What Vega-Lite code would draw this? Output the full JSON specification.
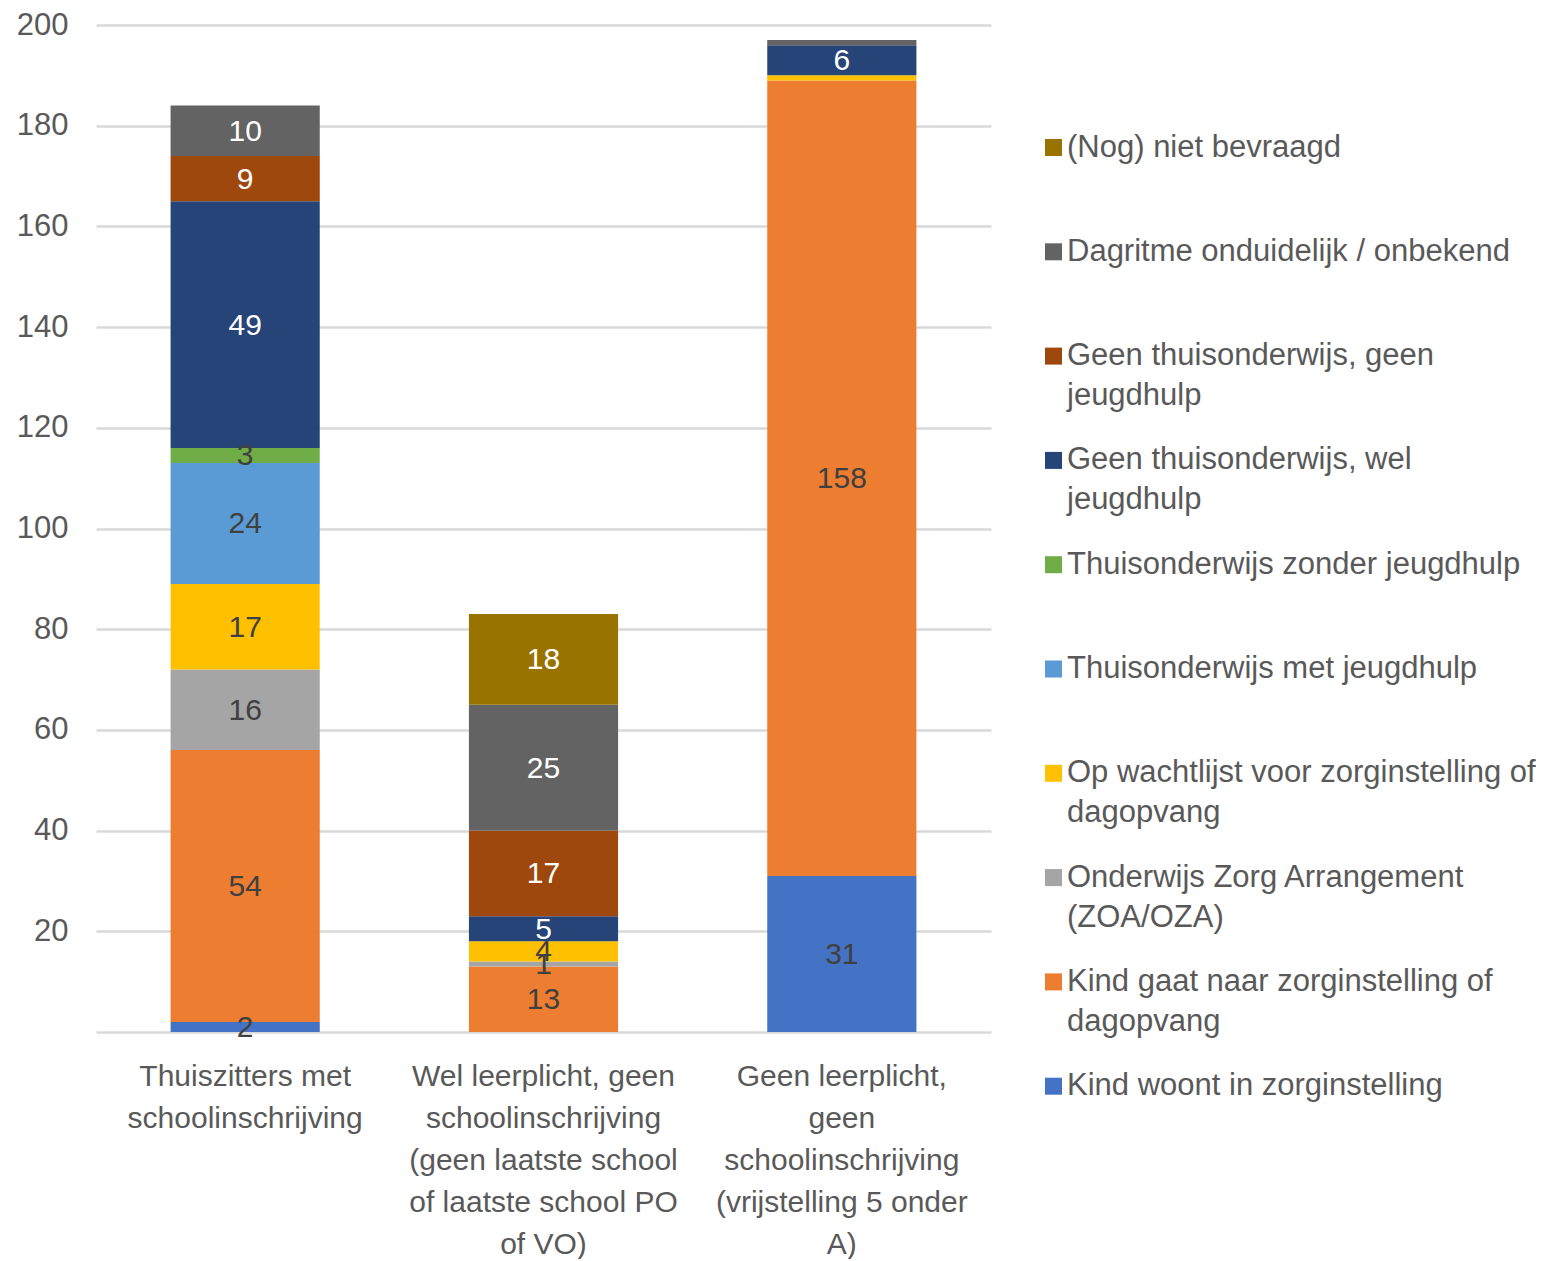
{
  "$schema": "https://vega.github.io/schema/vega-lite/v6.json",
  "width": 895,
  "height": 1007,
  "padding": {"left": 16, "top": 9, "right": 0, "bottom": 0},
  "background": "white",
  "config": {
    "view": {"stroke": null},
    "font": "Liberation Sans",
    "style": {"guide-label": {"lineHeight": 40}}
  },
  "data": {
    "values": [
      {"group": "Thuiszitters met schoolinschrijving", "category": "Kind woont in zorginstelling", "ord": 1, "value": 2, "label": "2"},
      {"group": "Thuiszitters met schoolinschrijving", "category": "Kind gaat naar zorginstelling of dagopvang", "ord": 2, "value": 54, "label": "54"},
      {"group": "Thuiszitters met schoolinschrijving", "category": "Onderwijs Zorg Arrangement (ZOA/OZA)", "ord": 3, "value": 16, "label": "16"},
      {"group": "Thuiszitters met schoolinschrijving", "category": "Op wachtlijst voor zorginstelling of dagopvang", "ord": 4, "value": 17, "label": "17"},
      {"group": "Thuiszitters met schoolinschrijving", "category": "Thuisonderwijs met jeugdhulp", "ord": 5, "value": 24, "label": "24"},
      {"group": "Thuiszitters met schoolinschrijving", "category": "Thuisonderwijs zonder jeugdhulp", "ord": 6, "value": 3, "label": "3"},
      {"group": "Thuiszitters met schoolinschrijving", "category": "Geen thuisonderwijs, wel jeugdhulp", "ord": 7, "value": 49, "label": "49"},
      {"group": "Thuiszitters met schoolinschrijving", "category": "Geen thuisonderwijs, geen jeugdhulp", "ord": 8, "value": 9, "label": "9"},
      {"group": "Thuiszitters met schoolinschrijving", "category": "Dagritme onduidelijk / onbekend", "ord": 9, "value": 10, "label": "10"},
      {"group": "Wel leerplicht, geen schoolinschrijving (geen laatste school of laatste school PO of VO)", "category": "Kind gaat naar zorginstelling of dagopvang", "ord": 2, "value": 13, "label": "13"},
      {"group": "Wel leerplicht, geen schoolinschrijving (geen laatste school of laatste school PO of VO)", "category": "Onderwijs Zorg Arrangement (ZOA/OZA)", "ord": 3, "value": 1, "label": "1"},
      {"group": "Wel leerplicht, geen schoolinschrijving (geen laatste school of laatste school PO of VO)", "category": "Op wachtlijst voor zorginstelling of dagopvang", "ord": 4, "value": 4, "label": "4"},
      {"group": "Wel leerplicht, geen schoolinschrijving (geen laatste school of laatste school PO of VO)", "category": "Geen thuisonderwijs, wel jeugdhulp", "ord": 7, "value": 5, "label": "5"},
      {"group": "Wel leerplicht, geen schoolinschrijving (geen laatste school of laatste school PO of VO)", "category": "Geen thuisonderwijs, geen jeugdhulp", "ord": 8, "value": 17, "label": "17"},
      {"group": "Wel leerplicht, geen schoolinschrijving (geen laatste school of laatste school PO of VO)", "category": "Dagritme onduidelijk / onbekend", "ord": 9, "value": 25, "label": "25"},
      {"group": "Wel leerplicht, geen schoolinschrijving (geen laatste school of laatste school PO of VO)", "category": "(Nog) niet bevraagd", "ord": 10, "value": 18, "label": "18"},
      {"group": "Geen leerplicht, geen schoolinschrijving (vrijstelling 5 onder A)", "category": "Kind woont in zorginstelling", "ord": 1, "value": 31, "label": "31"},
      {"group": "Geen leerplicht, geen schoolinschrijving (vrijstelling 5 onder A)", "category": "Kind gaat naar zorginstelling of dagopvang", "ord": 2, "value": 158, "label": "158"},
      {"group": "Geen leerplicht, geen schoolinschrijving (vrijstelling 5 onder A)", "category": "Op wachtlijst voor zorginstelling of dagopvang", "ord": 4, "value": 1, "label": ""},
      {"group": "Geen leerplicht, geen schoolinschrijving (vrijstelling 5 onder A)", "category": "Geen thuisonderwijs, wel jeugdhulp", "ord": 7, "value": 6, "label": "6"},
      {"group": "Geen leerplicht, geen schoolinschrijving (vrijstelling 5 onder A)", "category": "Dagritme onduidelijk / onbekend", "ord": 9, "value": 1, "label": ""}
    ]
  },
  "encoding": {
    "x": {
      "field": "group",
      "type": "nominal",
      "sort": ["Thuiszitters met schoolinschrijving", "Wel leerplicht, geen schoolinschrijving (geen laatste school of laatste school PO of VO)", "Geen leerplicht, geen schoolinschrijving (vrijstelling 5 onder A)"],
      "scale": {"paddingInner": 0.5, "paddingOuter": 0.25},
      "axis": {
        "title": null,
        "domain": false,
        "ticks": false,
        "labelAngle": 0,
        "labelFontSize": 30,
        "labelColor": "#595959",
        "labelLineHeight": 42,
        "labelPadding": 29,
        "labelLimit": 1000,
        "labelOverlap": false,
        "labelExpr": "datum.label == 'Thuiszitters met schoolinschrijving' ? ['Thuiszitters met', 'schoolinschrijving'] : datum.label == 'Geen leerplicht, geen schoolinschrijving (vrijstelling 5 onder A)' ? ['Geen leerplicht,', 'geen', 'schoolinschrijving', '(vrijstelling 5 onder', 'A)'] : ['Wel leerplicht, geen', 'schoolinschrijving', '(geen laatste school', 'of laatste school PO', 'of VO)']"
      }
    },
    "y": {
      "field": "value",
      "type": "quantitative",
      "stack": "zero",
      "scale": {"domain": [0, 200]},
      "axis": {
        "title": null,
        "domain": false,
        "ticks": false,
        "values": [0, 20, 40, 60, 80, 100, 120, 140, 160, 180, 200],
        "labelFontSize": 31,
        "labelColor": "#595959",
        "labelPadding": 28,
        "labelOverlap": false,
        "gridColor": "#d9d9d9",
        "gridWidth": 2.5,
        "labelExpr": "datum.value == 0 ? '' : datum.label"
      }
    },
    "order": {"field": "ord", "type": "quantitative"}
  },
  "layer": [
    {
      "mark": {"type": "bar"},
      "encoding": {
        "color": {
          "field": "category",
          "type": "nominal",
          "scale": {
            "domain": ["(Nog) niet bevraagd", "Dagritme onduidelijk / onbekend", "Geen thuisonderwijs, geen jeugdhulp", "Geen thuisonderwijs, wel jeugdhulp", "Thuisonderwijs zonder jeugdhulp", "Thuisonderwijs met jeugdhulp", "Op wachtlijst voor zorginstelling of dagopvang", "Onderwijs Zorg Arrangement (ZOA/OZA)", "Kind gaat naar zorginstelling of dagopvang", "Kind woont in zorginstelling"],
            "range": ["#997300", "#636363", "#9E480E", "#264478", "#70AD47", "#5B9BD5", "#FFC000", "#A5A5A5", "#ED7D31", "#4472C4"]
          },
          "legend": {
            "orient": "none",
            "legendX": 942,
            "legendY": 107,
            "title": null,
            "padding": 0,
            "symbolType": "square",
            "symbolSize": 289,
            "symbolStrokeWidth": 0,
            "labelFontSize": 31,
            "labelColor": "#595959",
            "labelLimit": 1000,
            "labelOffset": -2,
            "labelBaseline": "middle",
            "rowPadding": 32.3,
            "labelExpr": "datum.label == 'Geen thuisonderwijs, geen jeugdhulp' ? ['Geen thuisonderwijs, geen', 'jeugdhulp'] : datum.label == 'Geen thuisonderwijs, wel jeugdhulp' ? ['Geen thuisonderwijs, wel', 'jeugdhulp'] : datum.label == 'Op wachtlijst voor zorginstelling of dagopvang' ? ['Op wachtlijst voor zorginstelling of', 'dagopvang'] : datum.label == 'Onderwijs Zorg Arrangement (ZOA/OZA)' ? ['Onderwijs Zorg Arrangement', '(ZOA/OZA)'] : datum.label == 'Kind gaat naar zorginstelling of dagopvang' ? ['Kind gaat naar zorginstelling of', 'dagopvang'] : [datum.label, '']"
          }
        }
      }
    },
    {
      "mark": {"type": "text", "fontSize": 30, "baseline": "middle", "dy": 1},
      "encoding": {
        "y": {"field": "value", "type": "quantitative", "stack": "zero", "bandPosition": 0.5},
        "text": {"field": "label"},
        "color": {
          "condition": {"test": "indexof(['(Nog) niet bevraagd', 'Dagritme onduidelijk / onbekend', 'Geen thuisonderwijs, geen jeugdhulp', 'Geen thuisonderwijs, wel jeugdhulp'], datum.category) >= 0", "value": "white"},
          "value": "#404040"
        }
      }
    }
  ]
}
